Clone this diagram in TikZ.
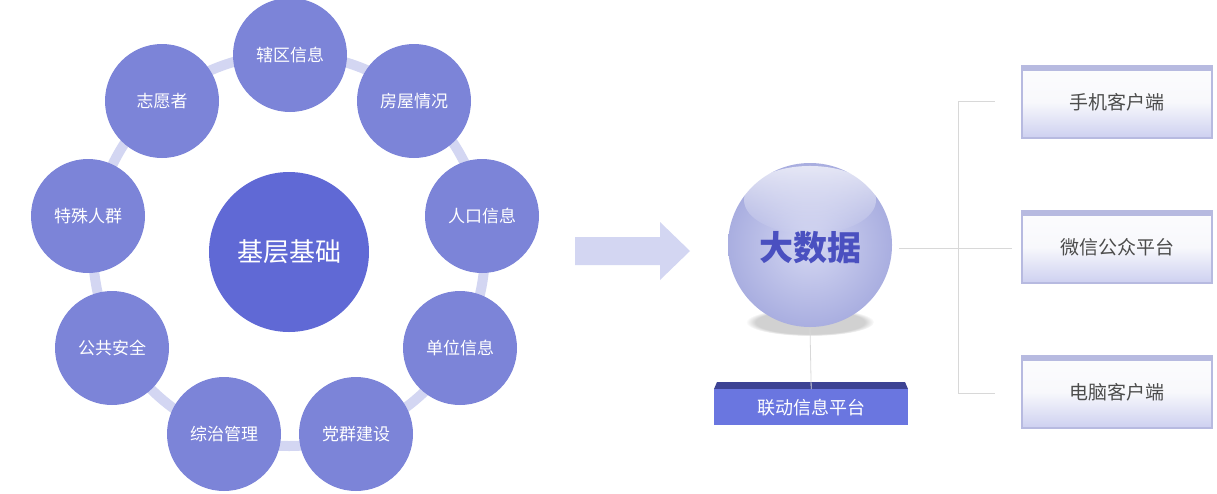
\documentclass[tikz,border=0pt]{standalone}
\usepackage{fontspec}
\setmainfont{Noto Sans CJK SC}
\usetikzlibrary{shadings,fadings}
\definecolor{sat}{HTML}{7C84D8}
\definecolor{core}{HTML}{6069D5}
\definecolor{ringc}{HTML}{D3D6F2}
\definecolor{ballin}{HTML}{D4D7F2}
\definecolor{ballout}{HTML}{A9AEE0}
\definecolor{boxtop}{HTML}{B7BAE0}
\definecolor{boxbot}{HTML}{CDD0F0}
\definecolor{linec}{HTML}{D8D8D8}
\definecolor{bigtxt}{HTML}{4A50C0}
\definecolor{platdark}{HTML}{3D4394}
\definecolor{platc}{HTML}{6A76E0}
\tikzset{
 satnode/.style={circle,fill=sat,minimum size=114pt,inner sep=0,text=white,font=\fontsize{17pt}{19pt}\selectfont},
 outbox/.style={minimum width=190pt,minimum height=72pt,inner sep=0,top color=white!96!boxtop,bottom color=boxbot,middle color=white!90!boxtop,draw=boxtop,line width=1.5pt,text=black!70,font=\fontsize{19pt}{21pt}\selectfont},
 conn/.style={linec,line width=0.8pt}
}
\begin{document}
\begin{tikzpicture}[x=1pt,y=-1pt]
\useasboundingbox (0,0) rectangle (1217,493);
\draw[ringc,line width=10pt] (289,250) circle (196);
\node[circle,fill=core,minimum size=160pt,inner sep=0,text=white,font=\fontsize{26pt}{28pt}\selectfont] (core) at (289,252) {基层基础};
\node[satnode] (s1) at (290,55) {辖区信息};
\node[satnode] (s2) at (414,101) {房屋情况};
\node[satnode] (s3) at (482,216) {人口信息};
\node[satnode] (s4) at (460,348) {单位信息};
\node[satnode] (s5) at (356,434) {党群建设};
\node[satnode] (s6) at (224,434) {综治管理};
\node[satnode] (s7) at (112,348) {公共安全};
\node[satnode] (s8) at (88,216) {特殊人群};
\node[satnode] (s9) at (162,101) {志愿者};
\fill[ringc] (575,237) -- (660,237) -- (660,222) -- (690,251) -- (660,280) -- (660,265) -- (575,265) -- cycle;
\fill[black!18,path fading=circle with fuzzy edge 15 percent] (810,322) ellipse (64 and 14);
\shade[inner color=ballin,outer color=ballout] (810,245) circle (82);
\fill[white,path fading=south,opacity=0.7] (810,200) ellipse (66 and 34);
\node[circle,minimum size=164pt,inner sep=0,text=bigtxt,font=\bfseries\fontsize{34pt}{36pt}\selectfont] (ball) at (810,248) {大数据};
\fill[platdark] (717,382) -- (905,382) -- (908,389) -- (714,389) -- cycle;
\node[fill=platc,minimum width=194pt,minimum height=36pt,inner sep=0,text=white,font=\fontsize{18pt}{20pt}\selectfont,anchor=north west] (plat) at (714,389) {联动信息平台};
\node[outbox] (o1) at (1117,102) {手机客户端};
\node[outbox] (o2) at (1117,247) {微信公众平台};
\node[outbox] (o3) at (1117,392) {电脑客户端};
\foreach \n in {o1,o2,o3}{\fill[boxtop] (\n.north west) rectangle ([yshift=-6pt]\n.north east);}
\coordinate (t) at (958,101);
\coordinate (b) at (958,393);
\draw[conn] (810,328) -- (plat.north);
\draw[conn] (899,248) -- (1012,248);
\draw[conn] (t) -- (b);
\draw[conn] (t) -- (995,101);
\draw[conn] (b) -- (995,393);
\end{tikzpicture}
\end{document}
